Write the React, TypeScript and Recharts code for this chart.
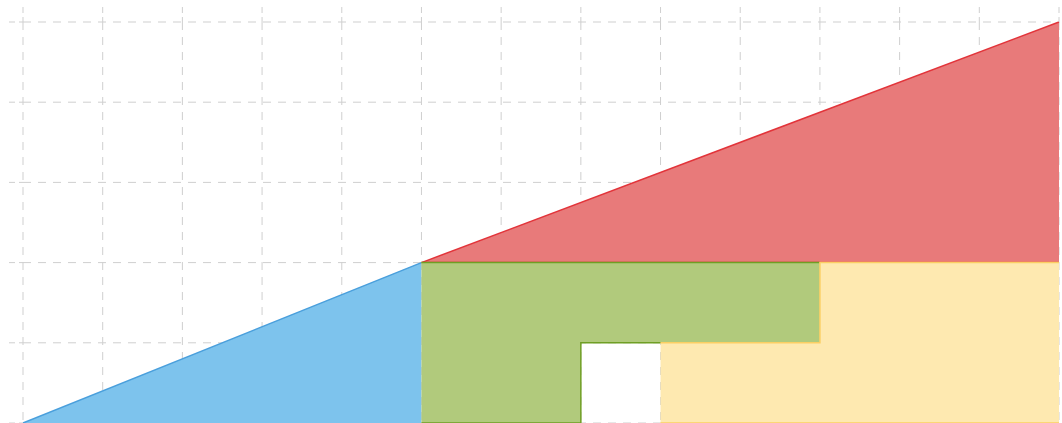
import { ComposedChart, Area, XAxis, YAxis, CartesianGrid } from 'recharts'

// x positions (grid columns) and values
const xTicks = [0, 1, 2, 3, 4, 5, 6, 7, 8, 9, 10, 11, 12, 13]
const yTicks = [0, 1, 2, 3, 4, 5]

const blueX = [0, 5]
const blueY = [0, 2]

const redX = [5, 13]
const redLow = [2, 2]
const redHigh = [2, 5]

const greenX = [5, 7, 10]
const greenLow = [0, 1, 1]
const greenHigh = [2, 2, 2]

const yellowX = [8, 10, 13]
const yellowLow = [0, 0, 0]
const yellowHigh = [1, 2, 2]

const blueData = blueX.map((x, i) => ({ x, v: blueY[i] }))
const redData = redX.map((x, i) => ({ x, v: [redLow[i], redHigh[i]] }))
const greenData = greenX.map((x, i) => ({ x, v: [greenLow[i], greenHigh[i]] }))
const yellowData = yellowX.map((x, i) => ({ x, v: [yellowLow[i], yellowHigh[i]] }))

const GRID = '#cfcfcf'
const DASH = '8 7'

export default function App() {
  return (
    <div style={{ position: 'absolute', left: 0, top: 0, width: 1062, height: 423, overflow: 'hidden' }}>
      <ComposedChart width={1062} height={424} margin={{ top: 7, right: 3, bottom: 1, left: 8 }}>
        <CartesianGrid stroke={GRID} strokeDasharray={DASH} />
        <XAxis
          type="number"
          dataKey="x"
          orientation="top"
          domain={[0, 13]}
          ticks={xTicks}
          height={15}
          tickSize={15}
          axisLine={false}
          tickLine={{ stroke: GRID, strokeDasharray: '6 4' }}
          tickFormatter={() => ''}
          allowDuplicatedCategory={false}
        />
        <YAxis
          type="number"
          domain={[0, 5]}
          ticks={yTicks}
          width={15}
          tickSize={14}
          axisLine={false}
          tickLine={{ stroke: GRID, strokeDasharray: '6 4' }}
          tickFormatter={() => ''}
        />
        <Area
          data={redData}
          dataKey="v"
          type="linear"
          stroke="#e2343a"
          strokeWidth={1.5}
          fill="#e87a7a"
          fillOpacity={1}
          isAnimationActive={false}
        />
        <Area
          data={blueData}
          dataKey="v"
          type="linear"
          stroke="#4a9fdc"
          strokeWidth={1.5}
          fill="#7dc3ed"
          fillOpacity={1}
          baseValue={0}
          isAnimationActive={false}
        />
        <Area
          data={greenData}
          dataKey="v"
          type="stepAfter"
          stroke="#6f9f24"
          strokeWidth={1.5}
          fill="#b1ca7c"
          fillOpacity={1}
          isAnimationActive={false}
        />
        <Area
          data={yellowData}
          dataKey="v"
          type="stepAfter"
          stroke="#fbcf63"
          strokeWidth={1.5}
          fill="#fee9b0"
          fillOpacity={1}
          isAnimationActive={false}
        />
      </ComposedChart>
    </div>
  )
}
